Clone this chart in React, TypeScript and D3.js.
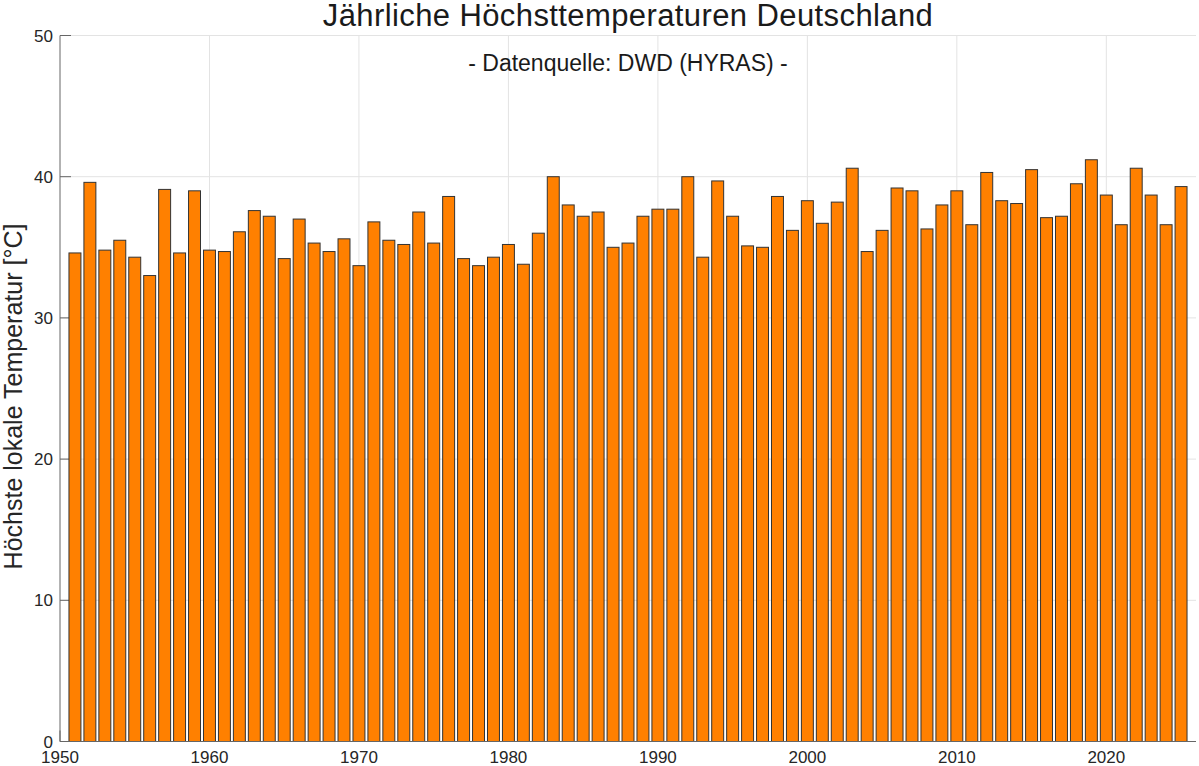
import React, { useEffect, useRef } from 'react';
import * as d3 from 'd3';

// Jährliche Höchsttemperaturen in Deutschland, Balkendiagramm 1951-2025

const years: number[] = d3.range(1951, 2026);

const maxTemps: number[] = [
  34.6, 39.6, 34.8, 35.5, 34.3, 33.0, 39.1, 34.6, 39.0, 34.8, // 1951-1960
  34.7, 36.1, 37.6, 37.2, 34.2, 37.0, 35.3, 34.7, 35.6, 33.7, // 1961-1970
  36.8, 35.5, 35.2, 37.5, 35.3, 38.6, 34.2, 33.7, 34.3, 35.2, // 1971-1980
  33.8, 36.0, 40.0, 38.0, 37.2, 37.5, 35.0, 35.3, 37.2, 37.7, // 1981-1990
  37.7, 40.0, 34.3, 39.7, 37.2, 35.1, 35.0, 38.6, 36.2, 38.3, // 1991-2000
  36.7, 38.2, 40.6, 34.7, 36.2, 39.2, 39.0, 36.3, 38.0, 39.0, // 2001-2010
  36.6, 40.3, 38.3, 38.1, 40.5, 37.1, 37.2, 39.5, 41.2, 38.7, // 2011-2020
  36.6, 40.6, 38.7, 36.6, 39.3, // 2021-2025
];

const xTicks: number[] = [1950, 1960, 1970, 1980, 1990, 2000, 2010, 2020];
const yTicks: number[] = [0, 10, 20, 30, 40, 50];

const titleText = 'Jährliche Höchsttemperaturen Deutschland';
const subtitleText = '- Datenquelle: DWD (HYRAS) -';
const yLabelText = 'Höchste lokale Temperatur [°C]';

const W = 1199;
const H = 766;
const FONT = '"Liberation Sans", Arial, Helvetica, sans-serif';

function App() {
  const ref = useRef<SVGSVGElement>(null);

  useEffect(() => {
    const margin = { top: 35.5, right: 3, bottom: 24.5, left: 60 };
    const svg = d3.select(ref.current);
    svg.selectAll('*').remove();

    const x = d3.scaleLinear().domain([1950, 2026]).range([margin.left, W - margin.right]);
    const y = d3.scaleLinear().domain([0, 50]).range([H - margin.bottom, margin.top]);
    const step = x(1951) - x(1950);
    const barW = step * 0.8;
    const cx = (x(1950) + x(2026)) / 2;

    // grid
    const grid = svg.append('g').attr('stroke', '#e3e3e3').attr('stroke-width', 1);
    grid.selectAll('.vgrid')
      .data(xTicks.slice(1))
      .join('line')
      .attr('x1', d => x(d)).attr('x2', d => x(d))
      .attr('y1', y(0)).attr('y2', y(50));
    grid.selectAll('.hgrid')
      .data(yTicks.slice(1))
      .join('line')
      .attr('x1', x(1950)).attr('x2', x(2026))
      .attr('y1', d => y(d)).attr('y2', d => y(d));

    // inward ticks
    const ticks = svg.append('g').attr('stroke', '#666').attr('stroke-width', 1);
    ticks.selectAll('.yt').data(yTicks).join('line')
      .attr('x1', x(1950)).attr('x2', x(1950) + 11)
      .attr('y1', d => y(d)).attr('y2', d => y(d));
    ticks.selectAll('.xt').data(xTicks).join('line')
      .attr('x1', d => x(d)).attr('x2', d => x(d))
      .attr('y1', y(0)).attr('y2', y(0) - 11);

    // bars
    svg.append('g')
      .selectAll('rect')
      .data(years)
      .join('rect')
      .attr('x', (d) => x(d) - barW / 2)
      .attr('width', barW)
      .attr('y', (d, i) => y(maxTemps[i]))
      .attr('height', (d, i) => y(0) - y(maxTemps[i]))
      .attr('fill', '#ff8000')
      .attr('stroke', '#333')
      .attr('stroke-width', 1);

    // axis lines
    svg.append('line')
      .attr('x1', x(1950)).attr('x2', x(1950))
      .attr('y1', y(0)).attr('y2', y(50))
      .attr('stroke', '#666').attr('stroke-width', 1);
    svg.append('line')
      .attr('x1', x(1950)).attr('x2', x(2026))
      .attr('y1', y(0)).attr('y2', y(0))
      .attr('stroke', '#666').attr('stroke-width', 1);

    // tick labels
    svg.append('g').selectAll('text').data(yTicks).join('text')
      .attr('x', x(1950) - 7)
      .attr('y', d => y(d))
      .attr('dy', '0.36em')
      .attr('text-anchor', 'end')
      .attr('font-family', FONT).attr('font-size', 17).attr('fill', '#262626')
      .text(d => d);
    svg.append('g').selectAll('text').data(xTicks).join('text')
      .attr('x', d => x(d))
      .attr('y', y(0) + 21.5)
      .attr('text-anchor', 'middle')
      .attr('font-family', FONT).attr('font-size', 17).attr('fill', '#262626')
      .text(d => d);

    // titles
    svg.append('text')
      .attr('x', cx).attr('y', 26)
      .attr('text-anchor', 'middle')
      .attr('font-family', FONT).attr('font-size', 31).attr('letter-spacing', 0.4)
      .attr('fill', '#1a1a1a')
      .text(titleText);
    svg.append('text')
      .attr('x', cx).attr('y', 71)
      .attr('text-anchor', 'middle')
      .attr('font-family', FONT).attr('font-size', 23).attr('fill', '#1a1a1a')
      .text(subtitleText);
    svg.append('text')
      .attr('transform', `translate(22, ${(y(0) + y(50)) / 2 + 8}) rotate(-90)`)
      .attr('text-anchor', 'middle')
      .attr('font-family', FONT).attr('font-size', 25).attr('fill', '#262626')
      .text(yLabelText);
  }, []);

  return (
    <svg ref={ref} width={W} height={H}
      style={{ position: 'absolute', left: 0, top: 0, background: '#fff' }} />
  );
}

export default App;
